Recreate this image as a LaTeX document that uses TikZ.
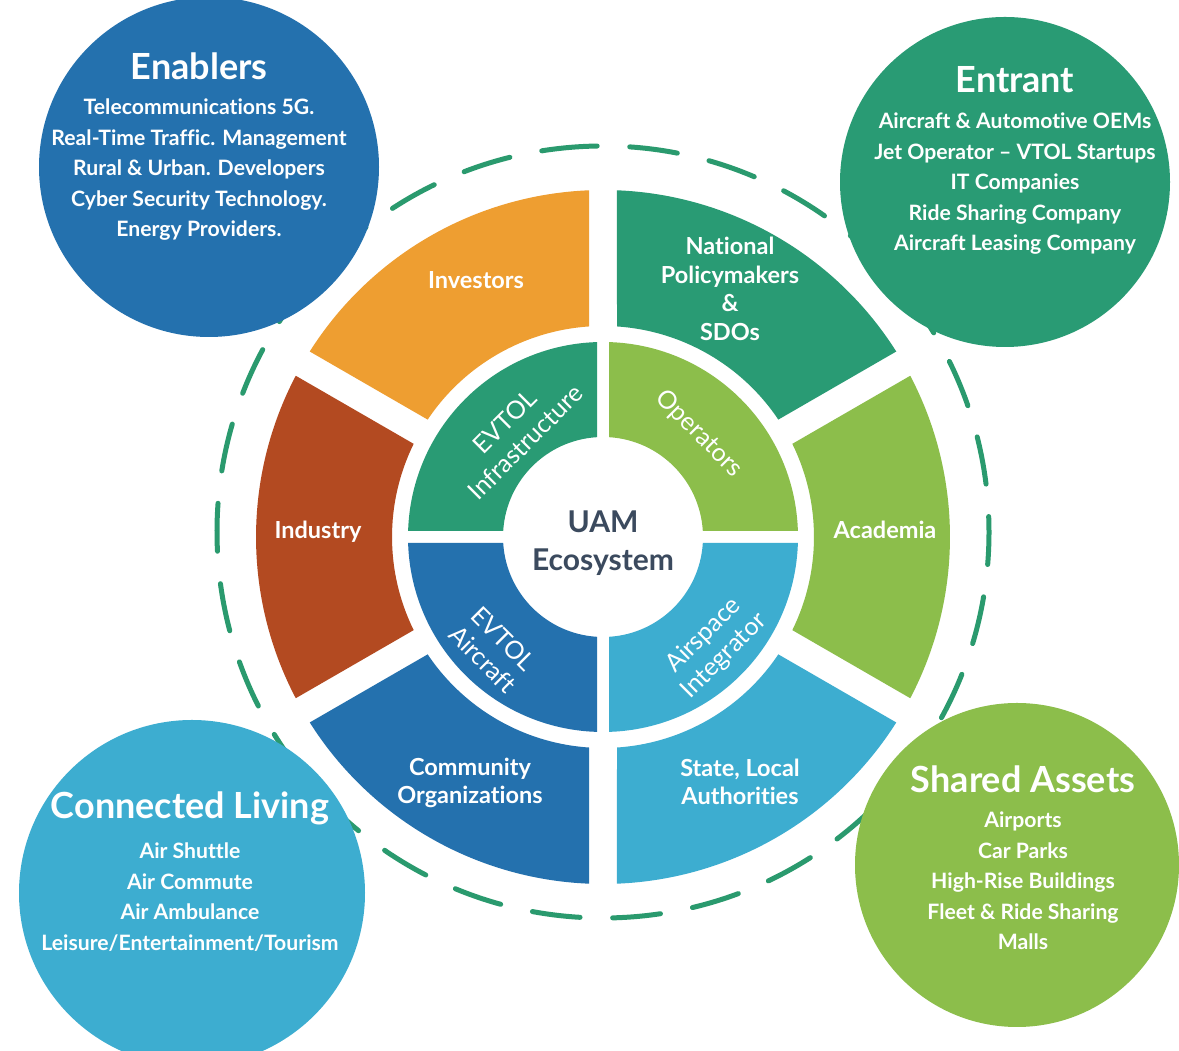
\documentclass[tikz,border=0pt]{standalone}
\usepackage{fontspec}
\setmainfont{Lato}[Ligatures=NoCommon]
\definecolor{cblue}{HTML}{2471AE}
\definecolor{cteal}{HTML}{299B74}
\definecolor{csky}{HTML}{3DADD0}
\definecolor{clime}{HTML}{8CBE4B}
\definecolor{corange}{HTML}{EE9E31}
\definecolor{crust}{HTML}{B34A21}
\definecolor{cdash}{HTML}{2A9A6E}
\definecolor{cslate}{HTML}{3B4A5E}

% annular sector between two radial lines, with parallel-sided gaps
% #1 colour, #2 start angle, #3 end angle, #4 inner radius, #5 outer radius, #6 half gap
\newcommand\ringpart[6]{%
  \pgfmathsetmacro\aOs{#2+asin(#6/#5)}%
  \pgfmathsetmacro\aOe{#3-asin(#6/#5)}%
  \pgfmathsetmacro\aIs{#2+asin(#6/#4)}%
  \pgfmathsetmacro\aIe{#3-asin(#6/#4)}%
  \fill[#1] (\aOs:#5pt) arc[start angle=\aOs, end angle=\aOe, radius=#5pt]
    -- (\aIe:#4pt) arc[start angle=\aIe, end angle=\aIs, radius=#4pt] -- cycle;}

\begin{document}
\begin{tikzpicture}[x=1pt,y=1pt,
  ringlabel/.style={text=white, font=\bfseries\fontsize{23.5}{28.5}\selectfont, align=center},
  innerlabel/.style={text=white, font=\fontsize{25}{29}\selectfont, align=center},
  circtitle/.style={text=white, font=\bfseries\fontsize{36}{40}\selectfont},
  circbody/.style={text=white, font=\bfseries\fontsize{21.2}{30.5}\selectfont, align=center},
  hubtext/.style={text=cslate, font=\bfseries\fontsize{30}{38}\selectfont, align=center},
  ringline/.style={cdash, line width=5pt, line cap=round, dash pattern=on 48pt off 32.6pt},
]
\fill[white] (0,0) rectangle (1179,1051);
\useasboundingbox (0,0) rectangle (1179,1051);

% dashed orbit
\draw[ringline] (603,519) ++(92:386pt) arc[start angle=92, end angle=452, radius=386pt];

\begin{scope}[shift={(603,514)}]
  % outer ring
  \ringpart{corange}{90}{150}{211}{347}{14}
  \ringpart{crust}{150}{210}{211}{347}{14}
  \ringpart{cblue}{210}{270}{211}{347}{14}
  \ringpart{csky}{270}{330}{211}{347}{14}
  \ringpart{clime}{-30}{30}{211}{347}{14}
  \ringpart{cteal}{30}{90}{211}{347}{14}
  % inner ring
  \ringpart{cteal}{90}{180}{100}{195}{6}
  \ringpart{cblue}{180}{270}{100}{195}{6}
  \ringpart{csky}{270}{360}{100}{195}{6}
  \ringpart{clime}{0}{90}{100}{195}{6}
\end{scope}

% corner circles
\fill[cblue] (209,884) circle[radius=170pt];
\fill[cteal] (1005,869) circle[radius=165pt];
\fill[csky] (192,158) circle[radius=173pt];
\fill[clime] (1017,186) circle[radius=162pt];

% hub
\node[hubtext] (hub) at (603,508) {UAM\\Ecosystem};

% inner ring labels
\node[innerlabel, rotate=45] (infra) at (515,619) {EVTOL\\Infrastructure};
\node[innerlabel, rotate=-45] (oper) at (699,617) {Operators};
\node[innerlabel, rotate=-45] (craft) at (493,402) {EVTOL\\Aircraft};
\node[innerlabel, rotate=45] (airsp) at (714,405) {Airspace\\Integrator};

% outer ring labels
\node[ringlabel] (invest) at (476,771) {Investors};
\node[ringlabel] (policy) at (730,762) {National\\Policymakers\\\&\\SDOs};
\node[ringlabel] (indus) at (318,519) {Industry};
\node[ringlabel] (acad) at (885,521) {Academia};
\node[ringlabel] (comm) at (470,268) {Community\\Organizations};
\node[ringlabel] (state) at (740,269) {State, Local\\Authorities};

% corner circle texts
\node[circtitle] (enabT) at (199,985) {Enablers};
\node[circbody] (enabB) at (199,881) {Telecommunications 5G.\\Real-Time Traffic. Management\\Rural \& Urban. Developers\\Cyber Security Technology.\\Energy Providers.};

\node[circtitle] (entrT) at (1015,971) {Entrant};
\node[circbody] (entrB) at (1015,867) {Aircraft \& Automotive OEMs\\Jet Operator – VTOL Startups\\IT Companies\\Ride Sharing Company\\Aircraft Leasing Company};

\node[circtitle] (connT) at (190,243) {Connected Living};
\node[circbody] (connB) at (190,154) {Air Shuttle\\Air Commute\\Air Ambulance\\Leisure/Entertainment/Tourism};

\node[circtitle] (shareT) at (1023,272) {Shared Assets};
\node[circbody] (shareB) at (1023,170) {Airports\\Car Parks\\High-Rise Buildings\\Fleet \& Ride Sharing\\Malls};
\end{tikzpicture}
\end{document}
